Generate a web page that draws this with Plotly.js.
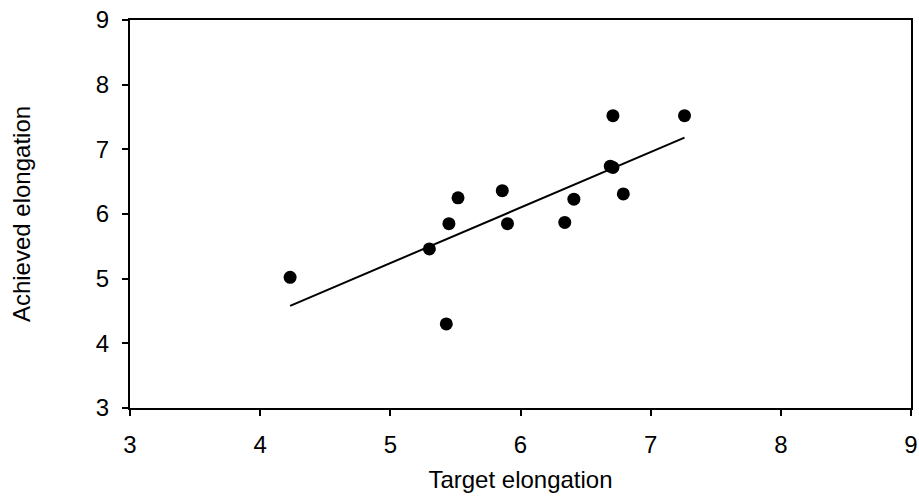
<!DOCTYPE html>
<html>
<head>
<meta charset="utf-8">
<script src="https://cdn.plot.ly/plotly-3.0.1.min.js"></script>
<style>html,body{margin:0;padding:0;background:#fff;}#chart{width:919px;height:500px;}</style>
</head>
<body>
<div id="chart"></div>
<script>
const targetElongation = [4.23, 5.30, 5.45, 5.43, 5.52, 5.86, 5.90, 6.34, 6.41, 6.69, 6.71, 6.79, 6.71, 7.26];
const achievedElongation = [5.02, 5.46, 5.85, 4.30, 6.25, 6.36, 5.85, 5.87, 6.23, 6.74, 6.72, 6.31, 7.52, 7.52];
const trendX = [4.23, 7.26];
const trendY = [4.58, 7.18];
const tickVals = [3, 4, 5, 6, 7, 8, 9];

const font = {family: 'Liberation Sans, Arial, sans-serif', size: 24, color: '#000'};

const data = [
  {
    x: trendX, y: trendY, type: 'scatter', mode: 'lines',
    line: {color: '#000', width: 2}, hoverinfo: 'skip', showlegend: false
  },
  {
    x: targetElongation, y: achievedElongation, type: 'scatter', mode: 'markers',
    marker: {color: '#000', size: 13}, showlegend: false
  }
];

const axisCommon = {
  range: [3, 9], tickvals: tickVals, ticktext: tickVals.map(String),
  showgrid: false, zeroline: false, showline: true, linecolor: '#000', linewidth: 2,
  mirror: true, ticks: 'outside', ticklen: 6, tickwidth: 2, tickcolor: '#000',
  tickfont: font, automargin: false
};

const layout = {
  width: 919, height: 500,
  margin: {l: 130, r: 8, t: 20, b: 92},
  paper_bgcolor: '#fff', plot_bgcolor: '#fff',
  font: font,
  xaxis: Object.assign({}, axisCommon, {ticklabelstandoff: 8, title: {text: 'Target elongation', font: font, standoff: 14}}),
  yaxis: Object.assign({}, axisCommon, {ticklabelstandoff: 8, title: {text: 'Achieved elongation', font: font, standoff: 58}})
};

Plotly.newPlot('chart', data, layout, {staticPlot: true, displayModeBar: false});
</script>
</body>
</html>
